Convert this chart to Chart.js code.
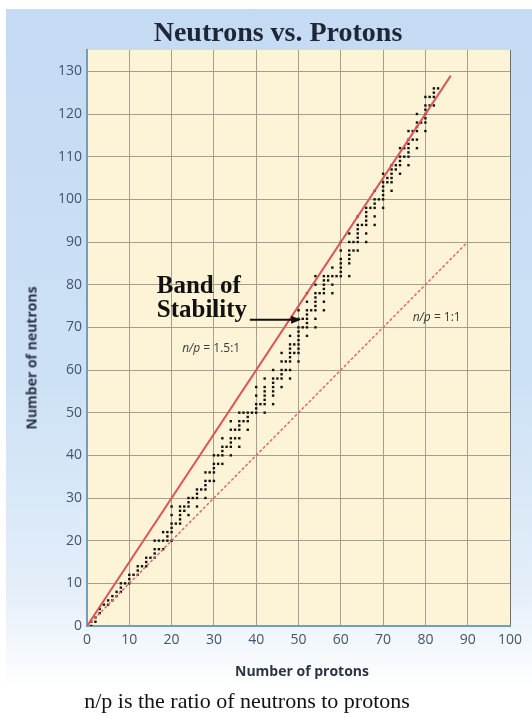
<!DOCTYPE html>
<html>
<head>
<meta charset="utf-8">
<script src="https://cdn.jsdelivr.net/npm/chart.js@4.4.1/dist/chart.umd.min.js"></script>
<style>
  html, body { margin: 0; padding: 0; background: #fff; }
  #wrap { position: relative; width: 532px; height: 717px; overflow: hidden; }
  #panel {
    position: absolute; left: 6px; top: 9px; width: 526px; height: 680px;
    background: linear-gradient(to bottom, #c4dbf3 0%, #cde1f6 55%, #e3eef9 85%, #ffffff 100%);
  }
  #chart { position: absolute; left: 0; top: 0; }
  .txt { position: absolute; white-space: nowrap; }
  #title { left: 278px; top: 32px; transform: translate(-50%, -50%); font: bold 28px "Liberation Serif", serif; color: #1f2737; }
  #xtitle { left: 302px; top: 670px; transform: translate(-50%, -50%); font: bold 14px "Open Sans", sans-serif; color: #2b3445; }
  #ytitle { left: 31px; top: 358px; transform: translate(-50%, -50%) rotate(-90deg); font: bold 14px "Open Sans", sans-serif; color: #2b3445; }
  #caption { left: 247px; top: 701px; transform: translate(-50%, -50%); font: 22px "Liberation Serif", serif; color: #111; }
</style>
</head>
<body>
<div id="wrap">
  <div id="panel"></div>
  <canvas id="chart" width="532" height="717"></canvas>
  <div class="txt" id="title">Neutrons vs. Protons</div>
  <div class="txt" id="ytitle">Number of neutrons</div>
  <div class="txt" id="xtitle">Number of protons</div>
  <div class="txt" id="caption">n/p is the ratio of neutrons to protons</div>
</div>
<script>
// neutron numbers of the stable nuclides, one list per proton number (Z = 1 .. 83)
const stableNeutrons = [
  [0, 1], [1, 2], [3, 4], [5], [5, 6], [6, 7], [7, 8], [8, 9, 10], [10], [10, 11, 12],
  [12], [12, 13, 14], [14], [14, 15, 16], [16], [16, 17, 18, 20], [18, 20], [18, 20, 22], [20, 21, 22], [20, 22, 23, 24, 26, 28],
  [24], [24, 25, 26, 27, 28], [27, 28], [26, 28, 29, 30], [30], [28, 30, 31, 32], [32], [30, 32, 33, 34, 36], [34, 36], [34, 36, 37, 38, 40],
  [38, 40], [38, 40, 41, 42, 44], [42], [40, 42, 43, 44, 46, 48], [44, 46], [42, 44, 46, 47, 48, 50], [48, 50], [46, 48, 49, 50], [50], [50, 51, 52, 54, 56],
  [52], [50, 52, 53, 54, 55, 56, 58], [], [52, 54, 55, 56, 57, 58, 60], [58], [56, 58, 59, 60, 62, 64], [60, 62], [58, 60, 62, 63, 64, 65, 66, 68], [64, 66], [62, 64, 65, 66, 67, 68, 69, 70, 72, 74],
  [70, 72], [68, 70, 71, 72, 73, 74, 76, 78], [74], [70, 72, 74, 75, 76, 77, 78, 80, 82], [78], [74, 76, 78, 79, 80, 81, 82], [81, 82], [78, 80, 82, 84], [82], [82, 83, 84, 85, 86, 88, 90],
  [], [82, 85, 86, 87, 88, 90, 92], [88, 90], [88, 90, 91, 92, 93, 94, 96], [94], [90, 92, 94, 95, 96, 97, 98], [98], [94, 96, 98, 99, 100, 102], [100], [98, 100, 101, 102, 103, 104, 106],
  [104, 105], [102, 104, 105, 106, 107, 108], [107, 108], [106, 108, 109, 110, 112], [110, 112], [108, 110, 111, 112, 113, 114, 116], [114, 116], [112, 114, 116, 117, 118, 120], [118], [116, 118, 119, 120, 121, 122, 124],
  [122, 124], [122, 124, 125, 126], [126]
];

// reference ratio lines (protons, neutrons)
const ratio15Protons = [0, 86];
const ratio15Neutrons = [0, 129];
const ratio11Protons = [0, 90];
const ratio11Neutrons = [0, 90];

const xTicks = [0, 10, 20, 30, 40, 50, 60, 70, 80, 90, 100];
const yTicks = [0, 10, 20, 30, 40, 50, 60, 70, 80, 90, 100, 110, 120, 130];

const nuclides = [];
stableNeutrons.forEach((list, i) => list.forEach(n => nuclides.push({ x: i + 1, y: n })));

const toPoints = (xs, ys) => xs.map((x, i) => ({ x: x, y: ys[i] }));

// plot background + annotations
const plotDecor = {
  id: 'plotDecor',
  beforeDraw(chart) {
    const { ctx, chartArea: a } = chart;
    ctx.save();
    ctx.fillStyle = '#fdf4d8';
    ctx.fillRect(a.left, a.top, a.right - a.left, a.bottom - a.top);
    ctx.restore();
  },
  afterDatasetsDraw(chart) {
    const { ctx, scales: { x, y } } = chart;
    ctx.save();
    ctx.fillStyle = '#111';
    ctx.textBaseline = 'middle';
    ctx.font = 'bold 25px "Liberation Serif", serif';
    ctx.fillText('Band of', x.getPixelForValue(16.5), y.getPixelForValue(79.6));
    ctx.fillText('Stability', x.getPixelForValue(16.5), y.getPixelForValue(74));

    // arrow
    const ay = y.getPixelForValue(71.8);
    const ax0 = x.getPixelForValue(38.5), ax1 = x.getPixelForValue(50.6);
    ctx.strokeStyle = '#111';
    ctx.lineWidth = 2;
    ctx.beginPath();
    ctx.moveTo(ax0, ay);
    ctx.lineTo(ax1 - 6, ay);
    ctx.stroke();
    ctx.beginPath();
    ctx.moveTo(ax1, ay);
    ctx.lineTo(ax1 - 10, ay - 4);
    ctx.lineTo(ax1 - 10, ay + 4);
    ctx.closePath();
    ctx.fill();

    // ratio labels
    const label = (px, py, tail) => {
      ctx.fillStyle = '#3a3a3a';
      ctx.font = 'italic 12px "Open Sans", sans-serif';
      ctx.fillText('n/p', px, py);
      const w = ctx.measureText('n/p').width;
      ctx.font = '12px "Open Sans", sans-serif';
      ctx.fillText(tail, px + w, py);
    };
    label(x.getPixelForValue(22.5), y.getPixelForValue(65), ' = 1.5:1');
    label(x.getPixelForValue(77), y.getPixelForValue(72.3), ' = 1:1');
    ctx.restore();
  }
};

new Chart(document.getElementById('chart'), {
  type: 'scatter',
  data: {
    datasets: [
      {
        label: 'n/p = 1.5:1',
        type: 'line',
        data: toPoints(ratio15Protons, ratio15Neutrons),
        borderColor: '#dc5557',
        borderWidth: 2,
        pointRadius: 0
      },
      {
        label: 'n/p = 1:1',
        type: 'line',
        data: toPoints(ratio11Protons, ratio11Neutrons),
        borderColor: '#e06868',
        borderWidth: 1.5,
        borderDash: [3, 2],
        pointRadius: 0
      },
      {
        label: 'Stable nuclides',
        data: nuclides,
        pointStyle: 'rect',
        pointRadius: 1.7,
        borderWidth: 0,
        backgroundColor: '#111'
      }
    ]
  },
  options: {
    responsive: false,
    animation: false,
    layout: { padding: { left: 0, right: 22, top: 50, bottom: 0 } },
    plugins: { legend: { display: false }, tooltip: { enabled: false } },
    scales: {
      x: {
        type: 'linear', min: 0, max: 100,
        afterFit: s => { s.height = 91; },
        afterBuildTicks: s => { s.ticks = xTicks.map(v => ({ value: v })); },
        ticks: { padding: 6, color: '#44546c', font: { family: '"Open Sans", sans-serif', size: 14 } },
        grid: { color: c => c.tick && c.tick.value === 100 ? '#6e6e6e' : '#a59f90', lineWidth: 1, drawTicks: false },
        border: { color: '#6c9ec6', width: 2 }
      },
      y: {
        type: 'linear', min: 0, max: 135,
        afterFit: s => { s.width = 87; },
        afterBuildTicks: s => { s.ticks = yTicks.map(v => ({ value: v })); },
        ticks: { padding: 5, color: '#44546c', font: { family: '"Open Sans", sans-serif', size: 14 } },
        grid: { color: '#a59f90', lineWidth: 1, drawTicks: false },
        border: { color: '#6c9ec6', width: 2 }
      }
    }
  },
  plugins: [plotDecor]
});
</script>
</body>
</html>
